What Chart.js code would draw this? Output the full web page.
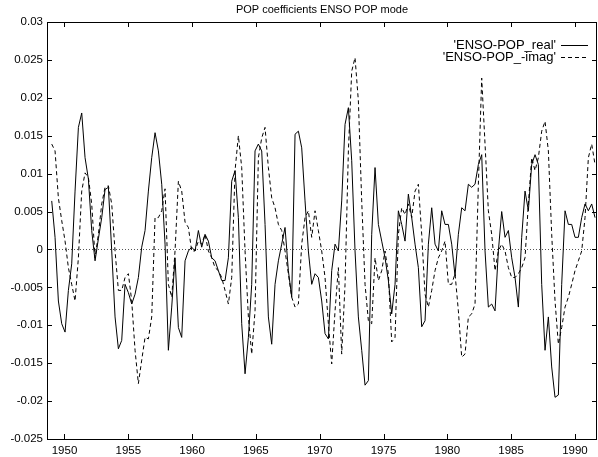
<!DOCTYPE html>
<html>
<head>
<meta charset="utf-8">
<title>POP coefficients ENSO POP mode</title>
<script src="https://cdn.jsdelivr.net/npm/chart.js@4.4.1/dist/chart.umd.min.js"></script>
<style>
  html, body { margin: 0; padding: 0; background: #fff; }
  #wrap { width: 598px; height: 457px; }
</style>
</head>
<body>
<div id="wrap"><canvas id="popChart" width="598" height="457"></canvas></div>
<script>
/* POP coefficients – real and -imag part of the ENSO POP mode */

const TITLE = 'POP coefficients ENSO POP mode';
const SERIES_NAMES = ["'ENSO-POP_real'", "'ENSO-POP_-imag'"];

const FIRST_YEAR = 1949.0;
const YEAR_STEP = 0.2612;

const realPOP = [
  0.0064, 0.0016, -0.0068, -0.0098, -0.0109, -0.0054, -0.0019, 0.0077, 0.0161, 0.0180,
  0.0121, 0.0093, 0.0025, -0.0015, 0.0014, 0.0042, 0.0079, 0.0082, -0.0002, -0.0089,
  -0.0131, -0.0120, -0.0046, -0.0057, -0.0072, -0.0059, -0.0037,
  0.0003, 0.0025, 0.0077, 0.0121, 0.0154, 0.0130, 0.0086, 0.0007, -0.0133, -0.0076,
  -0.0011, -0.0103, -0.0116, -0.0015, -0.0002, 0.0003, -0.0002, 0.0025, 0.0003, 0.0020,
  0.0011, -0.0011, -0.0015, -0.0028, -0.0041, -0.0041, -0.0011, 0.0090, 0.0104, 0.0042,
  -0.0098, -0.0164, -0.0116, -0.0046, 0.0130, 0.0139, 0.0130, 0.0033, -0.0089, -0.0125,
  -0.0046, -0.0015, 0.0007, 0.0029, -0.0028, -0.0063, 0.0152, 0.0156, 0.0134, 0.0064,
  -0.0002, -0.0046, -0.0032, -0.0037, -0.0068, -0.0111, -0.0118, -0.0028, 0.0007, -0.0002,
  0.0064, 0.0165, 0.0187, 0.0117, -0.0002, -0.0089, -0.0133, -0.0179, -0.0173, 0.0020,
  0.0108, 0.0033, 0.0011, -0.0011, -0.0041, -0.0085, -0.0046, 0.0051, 0.0033, 0.0011,
  0.0073, 0.0042, 0.0007, -0.0024, -0.0102, -0.0094, 0.0007, 0.0055, 0.0007, -0.0002,
  0.0051, 0.0033, 0.0033, 0.0007, -0.0035, 0.0020, 0.0055, 0.0051, 0.0086, 0.0082,
  0.0086, 0.0112, 0.0125, -0.0002, -0.0076, -0.0072, -0.0081, -0.0002, 0.0050, 0.0016,
  0.0025, -0.0011, -0.0037, -0.0076, 0.0016, 0.0077, 0.0051, 0.0112, 0.0125, 0.0112,
  -0.0046, -0.0133, -0.0089, -0.0155, -0.0195, -0.0192, -0.0046, 0.0051, 0.0033, 0.0033,
  0.0016, 0.0016, 0.0042, 0.0060, 0.0051, 0.0060, 0.0042
];

const imagPOP = [
  0.0139, 0.0130, 0.0068, 0.0038, 0.0011, -0.0024, -0.0046, -0.0068, -0.0011, 0.0077,
  0.0101, 0.0095, 0.0060, -0.0011, 0.0020, 0.0060, 0.0082, 0.0084, 0.0060, -0.0002,
  -0.0054, -0.0054, -0.0037, -0.0032, -0.0068, -0.0133, -0.0177,
  -0.0146, -0.0116, -0.0118, -0.0089, 0.0042, 0.0042, 0.0051, 0.0080, -0.0046, -0.0063,
  -0.0002, 0.0090, 0.0077, 0.0036, 0.0029, -0.0002, -0.0002, 0.0011, 0.0007, 0.0020,
  -0.0002, -0.0011, -0.0024, -0.0028, -0.0037, -0.0054, -0.0072, -0.0037, 0.0104, 0.0150,
  0.0108, -0.0002, -0.0089, -0.0138, -0.0081, 0.0121, 0.0147, 0.0161, 0.0108, 0.0068,
  0.0055, 0.0033, 0.0025, -0.0002, -0.0032, -0.0063, -0.0076, -0.0072, 0.0007, 0.0042,
  0.0051, 0.0016, 0.0051, 0.0025, -0.0002, -0.0037, -0.0098, -0.0151, -0.0081, -0.0024,
  -0.0138, -0.0046, 0.0130, 0.0235, 0.0253, 0.0196, 0.0064, -0.0046, -0.0094, -0.0098,
  -0.0011, -0.0041, -0.0028, -0.0002, -0.0032, -0.0122, -0.0116, 0.0020, 0.0055, 0.0046,
  0.0060, 0.0042, 0.0077, 0.0086, 0.0020, -0.0059, -0.0076, -0.0054, -0.0028, -0.0011,
  -0.0002, 0.0011, -0.0046, -0.0046, -0.0032, -0.0081, -0.0142, -0.0138, -0.0089, -0.0085,
  -0.0072, 0.0086, 0.0226, 0.0139, 0.0051, 0.0020, -0.0028, -0.0002, 0.0007, -0.0002,
  -0.0024, -0.0037, -0.0037, -0.0032, -0.0024, -0.0011, 0.0060, 0.0121, 0.0104, 0.0121,
  0.0156, 0.0169, 0.0130, 0.0020, -0.0068, -0.0125, -0.0103, -0.0076, -0.0063, -0.0046,
  -0.0028, -0.0015, -0.0002, 0.0042, 0.0121, 0.0139, 0.0112
];

const xTicks = [1950, 1955, 1960, 1965, 1970, 1975, 1980, 1985, 1990];
const yTicks = [-0.025, -0.02, -0.015, -0.01, -0.005, 0, 0.005, 0.01, 0.015, 0.02, 0.025, 0.03];

const X_MIN = 1948.63, X_MAX = 1991.73;
const Y_MIN = -0.025, Y_MAX = 0.03;

const years = realPOP.map((_, i) => +(FIRST_YEAR + i * YEAR_STEP).toFixed(3));
const toPoints = vals => vals.map((v, i) => ({ x: years[i], y: v }));

Chart.defaults.font.family = '"Liberation Sans", Arial, Helvetica, sans-serif';
Chart.defaults.color = '#000';

// gnuplot look: frame, inward ticks on all four sides, dotted zero axis, title, key
const gnuplotFrame = {
  id: 'gnuplotFrame',
  beforeDatasetsDraw(chart) {
    const { ctx, chartArea: a, scales: { y } } = chart;
    const y0 = Math.round(y.getPixelForValue(0)) + 0.5;
    ctx.save();
    ctx.strokeStyle = '#555';
    ctx.lineWidth = 1;
    ctx.setLineDash([1, 2]);
    ctx.beginPath(); ctx.moveTo(a.left, y0); ctx.lineTo(a.right, y0); ctx.stroke();
    ctx.restore();
  },
  afterDatasetsDraw(chart) {
    const { ctx, chartArea: a, scales: { x, y } } = chart;
    const T = 5;
    ctx.save();
    ctx.strokeStyle = '#000';
    ctx.lineWidth = 1;
    ctx.strokeRect(Math.round(a.left) + 0.5, Math.round(a.top) + 0.5,
      Math.round(a.right - a.left) - 1, Math.round(a.bottom - a.top));
    ctx.beginPath();
    xTicks.forEach(v => {
      const px = Math.round(x.getPixelForValue(v)) + 0.5;
      ctx.moveTo(px, a.bottom); ctx.lineTo(px, a.bottom - T);
      ctx.moveTo(px, a.top); ctx.lineTo(px, a.top + T);
    });
    yTicks.forEach(v => {
      const py = Math.round(y.getPixelForValue(v)) + 0.5;
      ctx.moveTo(a.left, py); ctx.lineTo(a.left + T, py);
      ctx.moveTo(a.right, py); ctx.lineTo(a.right - T, py);
    });
    ctx.stroke();

    // title centred over the plot
    ctx.fillStyle = '#000';
    ctx.font = '11px "Liberation Sans", Arial, sans-serif';
    ctx.textAlign = 'center';
    ctx.textBaseline = 'middle';
    ctx.fillText(TITLE, (a.left + a.right) / 2, 10);

    // key, top right inside the frame
    ctx.font = '13px "Liberation Sans", Arial, sans-serif';
    ctx.textAlign = 'right';
    chart.data.datasets.forEach((ds, i) => {
      const ky = 45 + i * 12;
      ctx.fillText(SERIES_NAMES[i], 556, ky);
      ctx.setLineDash(ds.borderDash || []);
      ctx.beginPath();
      ctx.moveTo(561, Math.round(ky) + 0.5); ctx.lineTo(588, Math.round(ky) + 0.5);
      ctx.stroke();
    });
    ctx.restore();
  }
};

new Chart(document.getElementById('popChart'), {
  type: 'line',
  data: {
    datasets: [
      { label: SERIES_NAMES[0], data: toPoints(realPOP), borderColor: '#000', borderWidth: 1,
        pointRadius: 0, tension: 0, fill: false },
      { label: SERIES_NAMES[1], data: toPoints(imagPOP), borderColor: '#000', borderWidth: 1,
        borderDash: [4, 3], pointRadius: 0, tension: 0, fill: false }
    ]
  },
  options: {
    responsive: false,
    animation: false,
    layout: { padding: { top: 22, right: 1, left: 0, bottom: 0 } },
    plugins: { legend: { display: false }, tooltip: { enabled: false }, title: { display: false } },
    scales: {
      x: {
        type: 'linear', min: X_MIN, max: X_MAX,
        grid: { display: false, drawTicks: false }, border: { display: false },
        afterBuildTicks: s => { s.ticks = xTicks.map(v => ({ value: v })); },
        afterFit: s => { s.height = 18; },
        ticks: { padding: 5, maxRotation: 0, autoSkip: false, font: { size: 11.5 }, callback: v => String(v) }
      },
      y: {
        type: 'linear', min: Y_MIN, max: Y_MAX,
        grid: { display: false, drawTicks: false }, border: { display: false },
        afterBuildTicks: s => { s.ticks = yTicks.map(v => ({ value: v })); },
        afterFit: s => { s.width = 47; },
        ticks: { padding: 4, autoSkip: false, font: { size: 11.5 }, callback: v => String(+v.toFixed(3)) }
      }
    }
  },
  plugins: [gnuplotFrame]
});
</script>
</body>
</html>
